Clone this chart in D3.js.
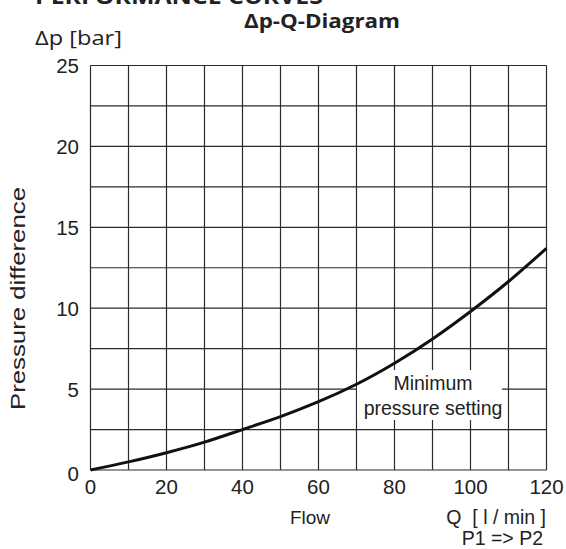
<!DOCTYPE html>
<html><head><meta charset="utf-8">
<script src="https://cdn.jsdelivr.net/npm/d3@7"></script>
<style>body{margin:0;background:#fff}svg{display:block}</style>
</head><body>
<script>
// Data
const flow = [0, 10, 20, 30, 40, 50, 60, 70, 80, 90, 100, 110, 120];
const pressure = [0, 0.5, 1.07, 1.72, 2.5, 3.3, 4.22, 5.3, 6.6, 8.1, 9.8, 11.65, 13.7];
const xTicks = [0, 20, 40, 60, 80, 100, 120];
const yTicks = [0, 5, 10, 15, 20, 25];
const xGrid = d3.range(0, 121, 10);
const yGrid = d3.range(0, 25.01, 2.5);

const W = 566, H = 549;
const svg = d3.select("body").append("svg").attr("width", W).attr("height", H);

const x = d3.scaleLinear().domain([0, 120]).range([90.5, 546.5]);
const y = d3.scaleLinear().domain([0, 25]).range([470, 65.5]);

const sans = "'Liberation Sans', Arial, sans-serif";
const fr = "'Open Sans', 'Noto Sans', sans-serif";
const gridColor = "#2b2b2b";

// Grid
svg.append("g").selectAll("line").data(xGrid).join("line")
  .attr("x1", d => x(d)).attr("x2", d => x(d))
  .attr("y1", y(0)).attr("y2", y(25))
  .attr("stroke", gridColor).attr("stroke-width", 1.2);
svg.append("g").selectAll("line").data(yGrid).join("line")
  .attr("x1", x(0)).attr("x2", x(120))
  .attr("y1", d => y(d)).attr("y2", d => y(d))
  .attr("stroke", gridColor).attr("stroke-width", 1.2);

// Label box
svg.append("rect").attr("x", 357).attr("y", 370).attr("width", 145).attr("height", 50).attr("fill", "#fff");
svg.append("text").attr("x", 433).attr("y", 389.5).attr("text-anchor", "middle")
  .attr("font-family", sans).attr("font-size", 19.5).attr("fill", "#222").text("Minimum");
svg.append("text").attr("x", 433).attr("y", 415).attr("text-anchor", "middle")
  .attr("font-family", sans).attr("font-size", 19.5).attr("fill", "#222").text("pressure setting");

// Curve
const pts = flow.map((f, i) => [f, pressure[i]]);
svg.append("path").datum(pts)
  .attr("d", d3.line().x(d => x(d[0])).y(d => y(d[1])).curve(d3.curveNatural))
  .attr("fill", "none").attr("stroke", "#111").attr("stroke-width", 3);

// Axes tick labels
svg.append("g").selectAll("text").data(xTicks).join("text")
  .attr("x", d => x(d)).attr("y", 494).attr("text-anchor", "middle")
  .attr("font-family", sans).attr("font-size", 20.5).attr("fill", "#222").text(d => d);
svg.append("g").selectAll("text").data(yTicks).join("text")
  .attr("x", 79).attr("y", d => y(d) + (d === 0 ? 11 : 7.5)).attr("text-anchor", "end")
  .attr("font-family", sans).attr("font-size", 20.5).attr("fill", "#222").text(d => d);

// Titles
svg.append("text").attr("x", 35).attr("y", 4).attr("font-family", fr).attr("font-weight", "bold")
  .attr("font-size", 22).attr("fill", "#222").attr("textLength", 288).attr("lengthAdjust", "spacingAndGlyphs")
  .text("PERFORMANCE CURVES");
svg.append("text").attr("x", 244).attr("y", 28).attr("font-family", fr).attr("font-weight", "bold")
  .attr("font-size", 19.5).attr("fill", "#222").attr("textLength", 156).attr("lengthAdjust", "spacingAndGlyphs")
  .text("Δp-Q-Diagram");
svg.append("text").attr("x", 35).attr("y", 45).attr("font-family", fr)
  .attr("font-size", 19.5).attr("fill", "#222").attr("textLength", 87).attr("lengthAdjust", "spacingAndGlyphs")
  .text("Δp [bar]");
svg.append("text").attr("transform", "translate(25,298.5) rotate(-90)").attr("text-anchor", "middle")
  .attr("font-family", sans).attr("font-size", 20).attr("fill", "#222")
  .attr("textLength", 223).attr("lengthAdjust", "spacingAndGlyphs")
  .text("Pressure difference");
svg.append("text").attr("x", 310).attr("y", 524).attr("text-anchor", "middle")
  .attr("font-family", sans).attr("font-size", 19).attr("fill", "#222").text("Flow");
svg.append("text").attr("x", 546).attr("y", 524).attr("text-anchor", "end")
  .attr("font-family", sans).attr("font-size", 19.5).attr("fill", "#222").attr("xml:space", "preserve").text("Q  [ l / min ]");
svg.append("text").attr("x", 543).attr("y", 545).attr("text-anchor", "end")
  .attr("font-family", sans).attr("font-size", 19.5).attr("fill", "#222").text("P1 => P2");
</script>
</body></html>
